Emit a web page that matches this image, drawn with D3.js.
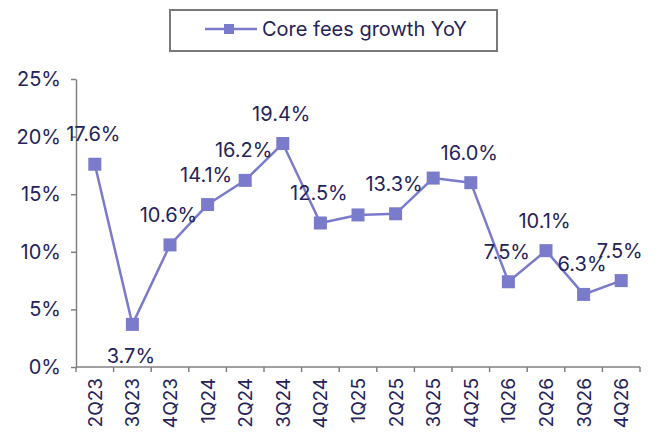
<!DOCTYPE html>
<html>
<head>
<meta charset="utf-8">
<script src="https://cdn.jsdelivr.net/npm/d3@7"></script>
<style>
  body { margin: 0; background: #fff; }
  svg { display: block; font-family: Inter, "Open Sans", sans-serif; }
</style>
</head>
<body>
<div id="chart"></div>
<script>
// data
const quarters = ["2Q23","3Q23","4Q23","1Q24","2Q24","3Q24","4Q24","1Q25","2Q25","3Q25","4Q25","1Q26","2Q26","3Q26","4Q26"];
const coreFeesGrowth = [17.6, 3.7, 10.6, 14.1, 16.2, 19.4, 12.5, 13.2, 13.3, 16.4, 16.0, 7.4, 10.1, 6.3, 7.5];
const pointLabels = ["17.6%","3.7%","10.6%","14.1%","16.2%","19.4%","12.5%",null,"13.3%",null,"16.0%","7.5%","10.1%","6.3%","7.5%"];
const labelBelow = [false,true,false,false,false,false,false,false,false,false,false,false,false,false,false];
const yTicks = [0, 5, 10, 15, 20, 25];
const seriesName = "Core fees growth YoY";

const W = 659, H = 436;
const lineColor = "#7b7bcc";
const textColor = "#25235a";
const axisColor = "#808080";

const svg = d3.select("#chart").append("svg")
  .attr("width", W).attr("height", H);

const x = d3.scaleBand().domain(quarters).range([76, 640]);
const y = d3.scaleLinear().domain([0, 25]).range([367, 79]);

// y axis
const yAxis = svg.append("g").attr("transform", "translate(76,0)")
  .call(d3.axisLeft(y).tickValues(yTicks).tickSize(5).tickSizeOuter(0).tickFormat(d => d + "%"));
yAxis.select(".domain").attr("stroke", axisColor).attr("stroke-width", 1.5);
yAxis.selectAll(".tick line").attr("stroke", axisColor).attr("stroke-width", 1.5);
yAxis.selectAll(".tick text")
  .attr("x", -15)
  .attr("fill", textColor)
  .style("font-size", "20px")
  .style("font-family", "Inter, sans-serif");

// x axis: ticks between categories
const xAxis = svg.append("g");
xAxis.append("line")
  .attr("x1", x.range()[0]).attr("x2", x.range()[1])
  .attr("y1", y(0)).attr("y2", y(0))
  .attr("stroke", axisColor).attr("stroke-width", 1.5);
const edges = quarters.map(q => x(q)).concat([x.range()[1]]);
xAxis.selectAll("line.tk").data(edges).join("line")
  .attr("class", "tk")
  .attr("x1", d => d).attr("x2", d => d)
  .attr("y1", y(0)).attr("y2", y(0) + 5)
  .attr("stroke", axisColor).attr("stroke-width", 1.5);
xAxis.selectAll("text").data(quarters).join("text")
  .attr("transform", d => `translate(${x(d) + x.bandwidth() / 2 + 7},${y(0) + 11}) rotate(-90)`)
  .attr("text-anchor", "end")
  .attr("fill", textColor)
  .style("font-size", "19px")
  .text(d => d);

// line + markers
const pts = quarters.map((q, i) => ({ q, v: coreFeesGrowth[i], label: pointLabels[i], below: labelBelow[i] }));
const cx = d => x(d.q) + x.bandwidth() / 2;

svg.append("path")
  .datum(pts)
  .attr("fill", "none")
  .attr("stroke", lineColor)
  .attr("stroke-width", 2.5)
  .attr("d", d3.line().x(cx).y(d => y(d.v)));

svg.selectAll("rect.mk").data(pts).join("rect")
  .attr("class", "mk")
  .attr("x", d => cx(d) - 6.5).attr("y", d => y(d.v) - 6.5)
  .attr("width", 13).attr("height", 13)
  .attr("fill", lineColor);

svg.selectAll("text.lbl").data(pts.filter(d => d.label)).join("text")
  .attr("class", "lbl")
  .attr("x", d => cx(d) - 1.5)
  .attr("y", d => y(d.v) + (d.below ? 32 : -30))
  .attr("dy", "0.35em")
  .attr("text-anchor", "middle")
  .attr("fill", textColor)
  .style("font-size", "20px")
  .text(d => d.label);

// legend
const lg = svg.append("g");
lg.append("rect")
  .attr("x", 170).attr("y", 10).attr("width", 327).attr("height", 41)
  .attr("fill", "#fff").attr("stroke", "#7a7a7a").attr("stroke-width", 2);
lg.append("line")
  .attr("x1", 205).attr("x2", 257).attr("y1", 29).attr("y2", 29)
  .attr("stroke", lineColor).attr("stroke-width", 2.5);
lg.append("rect")
  .attr("x", 224).attr("y", 24).attr("width", 10).attr("height", 10)
  .attr("fill", lineColor);
lg.append("text")
  .attr("x", 262).attr("y", 29).attr("dy", "0.35em")
  .attr("fill", textColor)
  .style("font-size", "20px")
  .text(seriesName);
</script>
</body>
</html>
